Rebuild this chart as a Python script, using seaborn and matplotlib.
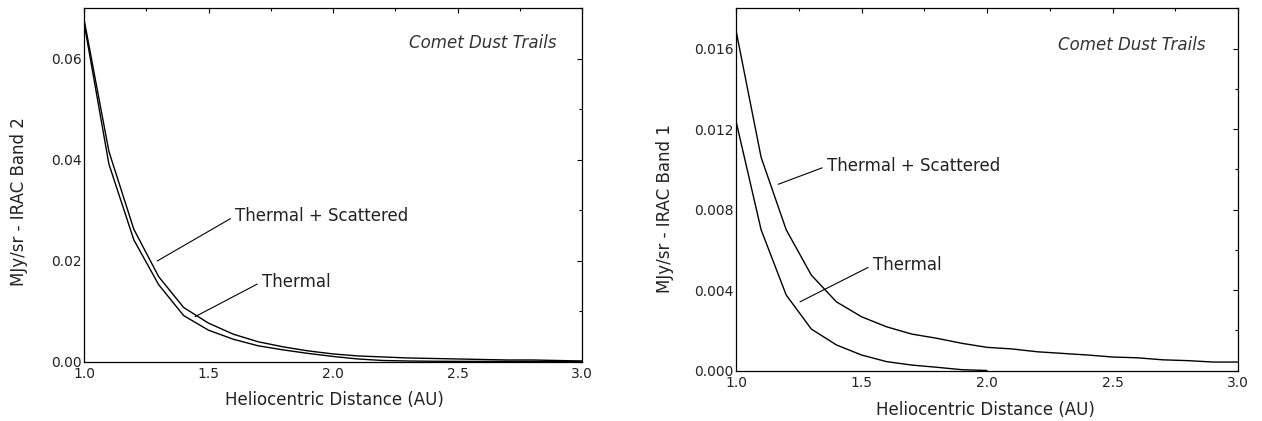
import matplotlib
matplotlib.use("Agg")
import matplotlib.pyplot as plt
import seaborn as sns
import pandas as pd
from matplotlib.ticker import MultipleLocator, FormatStrFormatter

# ---------------- data ----------------
dist = [1.0, 1.1, 1.2, 1.3, 1.4, 1.5, 1.6, 1.7, 1.8, 1.9, 2.0,
        2.1, 2.2, 2.3, 2.4, 2.5, 2.6, 2.7, 2.8, 2.9, 3.0]

# IRAC Band 2 (left panel)
band2_thermal_scattered = [0.0678, 0.0416, 0.0262, 0.0168, 0.0107, 0.0076, 0.0054,
                           0.0039, 0.0029, 0.0021, 0.0015, 0.0011, 0.0009, 0.0007,
                           0.0006, 0.0005, 0.0004, 0.0003, 0.0003, 0.0002, 0.0001]
band2_thermal = [0.0671, 0.0391, 0.0241, 0.0152, 0.0091, 0.0062, 0.0044,
                 0.0031, 0.0023, 0.0016, 0.0010, 0.0005, 0.0002, 0.0001,
                 0.00005, 0.00003, 0.00002, 0.00001, 0.0, 0.0, 0.0]

# IRAC Band 1 (right panel)
band1_thermal_scattered = [0.0169, 0.0106, 0.0070, 0.00475, 0.00342, 0.00268, 0.00218,
                           0.00182, 0.00161, 0.00136, 0.00116, 0.00108, 0.00094, 0.00086,
                           0.00078, 0.00068, 0.00064, 0.00054, 0.00050, 0.00043, 0.00043]
band1_dist_thermal = [1.0, 1.1, 1.2, 1.3, 1.4, 1.5, 1.6, 1.7, 1.8, 1.9, 2.0]
band1_thermal = [0.0124, 0.0070, 0.00376, 0.00207, 0.00128, 0.00078, 0.00045,
                 0.00028, 0.00017, 0.00005, 0.00001]

x_label = "Heliocentric Distance (AU)"
y_label_left = "MJy/sr - IRAC Band 2"
y_label_right = "MJy/sr - IRAC Band 1"
title_text = "Comet Dust Trails"
lbl_ts = "Thermal + Scattered"
lbl_t = "Thermal"

# ---------------- style ----------------
sns.set_style("white")
plt.rcParams["font.family"] = ["DejaVu Sans"]
txt_color = "#222222"

fig = plt.figure(figsize=(12.62, 4.21), dpi=100)
W, H = 1262.0, 421.0
axL = fig.add_axes([84 / W, (H - 361.5) / H, 498 / W, 353.5 / H])
axR = fig.add_axes([736 / W, (H - 370.7) / H, 502 / W, 362.4 / H])

def style_axes(ax, ymax, ymajor, fmt):
    ax.set_xlim(1.0, 3.0)
    ax.set_ylim(0, ymax)
    ax.xaxis.set_major_locator(MultipleLocator(0.5))
    ax.xaxis.set_minor_locator(MultipleLocator(0.25))
    ax.yaxis.set_major_locator(MultipleLocator(ymajor))
    ax.yaxis.set_minor_locator(MultipleLocator(ymajor / 2))
    ax.xaxis.set_major_formatter(FormatStrFormatter("%.1f"))
    ax.yaxis.set_major_formatter(FormatStrFormatter(fmt))
    ax.tick_params(which="both", direction="in", top=True, right=True,
                   colors="black", labelcolor=txt_color, width=0.8)
    ax.tick_params(which="major", length=3.6)
    ax.tick_params(which="minor", length=2.4)
    ax.tick_params(axis="x", labelsize=10, pad=4.0)
    ax.tick_params(axis="y", labelsize=10, pad=1.5)
    for sp in ax.spines.values():
        sp.set_visible(True)
        sp.set_color("black")
        sp.set_linewidth(0.9)
    ax.grid(False)

def label(ax, text, point, text_pos):
    ax.annotate(text, xy=point, xytext=text_pos, fontsize=12, color=txt_color,
                va="center", ha="left",
                arrowprops=dict(arrowstyle="-", color="black", lw=0.8,
                                relpos=(0.0, 0.5), shrinkA=1, shrinkB=0))

# ---------------- left panel ----------------
dfL = pd.DataFrame({"dist": dist * 2,
                    "val": band2_thermal_scattered + band2_thermal,
                    "series": [lbl_ts] * len(dist) + [lbl_t] * len(dist)})
sns.lineplot(data=dfL, x="dist", y="val", units="series", estimator=None,
             color="black", linewidth=1.0, ax=axL, legend=False)
style_axes(axL, 0.07, 0.02, "%.2f")
axL.set_xlabel(x_label, fontsize=12, color=txt_color)
axL.set_ylabel(y_label_left, fontsize=12, color=txt_color)
axL.xaxis.set_label_coords(0.502, -0.083)
axL.yaxis.set_label_coords(-0.112, 0.453)
axL.text(0.948, 0.901, title_text, transform=axL.transAxes, ha="right", va="center",
         fontsize=12, style="italic", color="#333333")
label(axL, lbl_ts, (1.294, 0.0199), (1.606, 0.0288))
label(axL, lbl_t, (1.446, 0.00887), (1.714, 0.0158))

# ---------------- right panel ----------------
dfR = pd.DataFrame({"dist": dist + band1_dist_thermal,
                    "val": band1_thermal_scattered + band1_thermal,
                    "series": [lbl_ts] * len(dist) + [lbl_t] * len(band1_dist_thermal)})
sns.lineplot(data=dfR, x="dist", y="val", units="series", estimator=None,
             color="black", linewidth=1.0, ax=axR, legend=False)
style_axes(axR, 0.018, 0.004, "%.3f")
axR.set_xlabel(x_label, fontsize=12, color=txt_color)
axR.set_ylabel(y_label_right, fontsize=12, color=txt_color)
axR.xaxis.set_label_coords(0.497, -0.084)
axR.yaxis.set_label_coords(-0.1235, 0.448)
axR.text(0.936, 0.899, title_text, transform=axR.transAxes, ha="right", va="center",
         fontsize=12, style="italic", color="#333333")
label(axR, lbl_ts, (1.1685, 0.00926), (1.3614, 0.01016))
label(axR, lbl_t, (1.255, 0.00342), (1.5446, 0.005246))

fig.savefig("out.png", dpi=100)
